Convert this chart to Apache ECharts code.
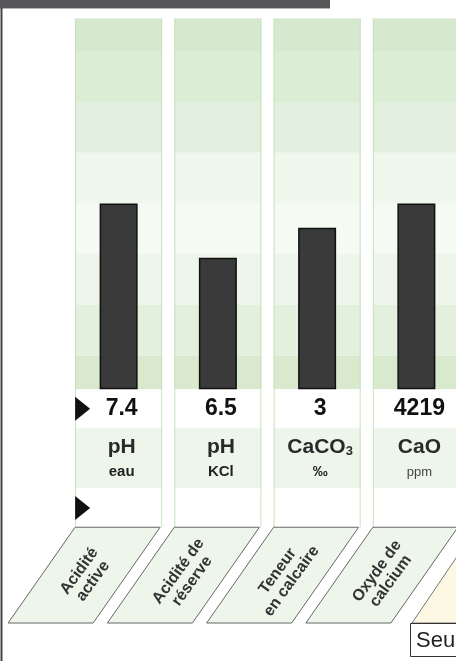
<!DOCTYPE html>
<html><head><meta charset="utf-8">
<script src="https://cdn.jsdelivr.net/npm/echarts@6/dist/echarts.min.js"></script>
<style>html,body{margin:0;padding:0;background:#fff}#c{width:456px;height:661px}</style>
</head><body><div id="c"></div>
<script>
// ---- data ----
const categories = ['Acidité\nactive', 'Acidité de\nréserve', 'Teneur\nen calcaire', 'Oxyde de\ncalcium'];
const barLevels = [50, 35.4, 43.5, 50];          // position of each result on the normalised scale (0-100)
const valueLabels = ['7.4', '6.5', '3', '4219'];
const unitMain = ['pH', 'pH', 'CaCO3', 'CaO'];
const unitSub = ['eau', 'KCl', '‰', 'ppm'];
const bandEdges = [0, 9, 22.7, 36.4, 50, 63.7, 77.4, 91.1, 100];
const bandColors = ['#d8e9ce', '#e3f0de', '#eef6eb', '#f5faf3', '#f0f7ed', '#e4f0df', '#dcedd6', '#d6e8cd'];
const rowEdges = [0, -10.5, -26.7, -37.2];
const rowColors = ['#ffffff', '#eef6eb', '#ffffff'];
const Y_MIN = -63, Y_MAX = 100;

const FONT = "'Liberation Sans', Arial, sans-serif";

function renderItem(params, api) {
  const i = api.value(0);
  const bw = api.size([1, 0])[0];
  const w = bw * 0.877;
  const cx = api.coord([i, 0])[0];
  const x0 = cx - w / 2;
  const Y = v => api.coord([i, v])[1];
  const ch = [];
  for (let k = 0; k < bandColors.length; k++) {
    const yt = Y(bandEdges[k + 1]), yb = Y(bandEdges[k]);
    ch.push({type: 'rect', shape: {x: x0, y: yt, width: w, height: yb - yt}, style: {fill: bandColors[k]}});
  }
  for (let k = 0; k < rowColors.length; k++) {
    const yt = Y(rowEdges[k]), yb = Y(rowEdges[k + 1]);
    ch.push({type: 'rect', shape: {x: x0, y: yt, width: w, height: yb - yt}, style: {fill: rowColors[k]}});
  }
  const yTop = Y(Y_MAX), yEnd = Y(rowEdges[3]);
  ch.push({type: 'line', shape: {x1: x0 + 0.5, y1: yTop, x2: x0 + 0.5, y2: yEnd}, style: {stroke: '#c6e2bd', lineWidth: 1}});
  ch.push({type: 'line', shape: {x1: x0 + w - 0.5, y1: yTop, x2: x0 + w - 0.5, y2: yEnd}, style: {stroke: '#c6e2bd', lineWidth: 1}});
  ch.push({type: 'line', shape: {x1: x0, y1: yTop + 0.5, x2: x0 + w, y2: yTop + 0.5}, style: {stroke: '#e6eee3', lineWidth: 1}});
  // parallelogram with category name
  const yB = Y(Y_MIN), sl = 67;
  ch.push({type: 'polygon', shape: {points: [[x0, yEnd], [x0 + w - 2, yEnd], [x0 + w - 2 - sl, yB], [x0 - sl, yB]]},
    style: {fill: '#eef6eb', stroke: '#666', lineWidth: 1}});
  ch.push({type: 'text', x: cx + 1 - sl / 2, y: (yEnd + yB) / 2 + 1, rotation: 54 * Math.PI / 180,
    style: {text: categories[i], align: 'center', verticalAlign: 'middle', font: 'bold 16px ' + FONT, fill: '#333', lineHeight: 17}});
  // value
  const bc = cx + 3;
  ch.push({type: 'text', x: bc, y: Y(-5.3), style: {text: valueLabels[i], align: 'center', verticalAlign: 'middle', font: 'bold 23px ' + FONT, fill: '#111'}});
  // units
  let mainText = unitMain[i];
  const rich = {m: {fontSize: 21, fontWeight: 'bold', fontFamily: FONT, fill: '#2a2a2a', verticalAlign: 'bottom', lineHeight: 22},
                s: {fontSize: 13, fontWeight: 'bold', fontFamily: FONT, fill: '#2a2a2a', verticalAlign: 'bottom', lineHeight: 19}};
  if (mainText === 'CaCO3') mainText = '{m|CaCO}{s|3}'; else mainText = '{m|' + mainText + '}';
  ch.push({type: 'text', x: bc, y: Y(-15.6), style: {text: mainText, rich: rich, align: 'center', verticalAlign: 'middle'}});
  const subBold = unitSub[i] !== 'ppm';
  ch.push({type: 'text', x: bc, y: Y(-22.4), style: {text: unitSub[i], align: 'center', verticalAlign: 'middle',
    font: (subBold ? 'bold 15px ' : '13px ') + FONT, fill: subBold ? '#222' : '#444'}});
  if (i === 0) {
    [Y(-5.3), Y(-32)].forEach(yc => {
      ch.push({type: 'polygon', shape: {points: [[x0, yc - 12], [x0 + 15, yc], [x0, yc + 12]]}, style: {fill: '#111'}});
    });
  }
  return {type: 'group', children: ch};
}

const chart = echarts.init(document.getElementById('c'));
chart.setOption({
  animation: false,
  grid: {left: 69, right: -10, top: 18, bottom: 38, outerBoundsMode: 'none', containLabel: false},
  xAxis: {type: 'category', data: categories, show: false},
  yAxis: {type: 'value', min: Y_MIN, max: Y_MAX, show: false},
  graphic: [
    {type: 'rect', shape: {x: 0, y: 0, width: 330, height: 8}, style: {fill: '#58585a'}, z: 10},
    {type: 'line', shape: {x1: 0, y1: 8.5, x2: 330, y2: 8.5}, style: {stroke: '#b5b5b5', lineWidth: 1}, z: 10},
    {type: 'line', shape: {x1: 1.5, y1: 8, x2: 1.5, y2: 661}, style: {stroke: '#444', lineWidth: 2}, z: 10},
    {type: 'polygon', shape: {points: [[412, 623], [477, 527], [600, 527], [535, 623]]}, style: {fill: '#fdf8e3', stroke: '#777', lineWidth: 1}, z: 10},
    {type: 'rect', shape: {x: 410.5, y: 623.5, width: 120, height: 33}, style: {fill: '#fff', stroke: '#333', lineWidth: 1}, z: 11},
    {type: 'text', x: 416, y: 641, style: {text: 'Seuils', font: '22px ' + FONT, fill: '#222', verticalAlign: 'middle'}, z: 12}
  ],
  series: [
    {type: 'custom', renderItem: renderItem, data: categories.map((c, i) => [i]), encode: {x: 0}, clip: false, z: 1, silent: true},
    {type: 'bar', data: barLevels, barWidth: 38, z: 3,
      itemStyle: {color: '#3a3a3a', borderColor: '#111', borderWidth: 1.5}}
  ]
});
</script>
</body></html>
